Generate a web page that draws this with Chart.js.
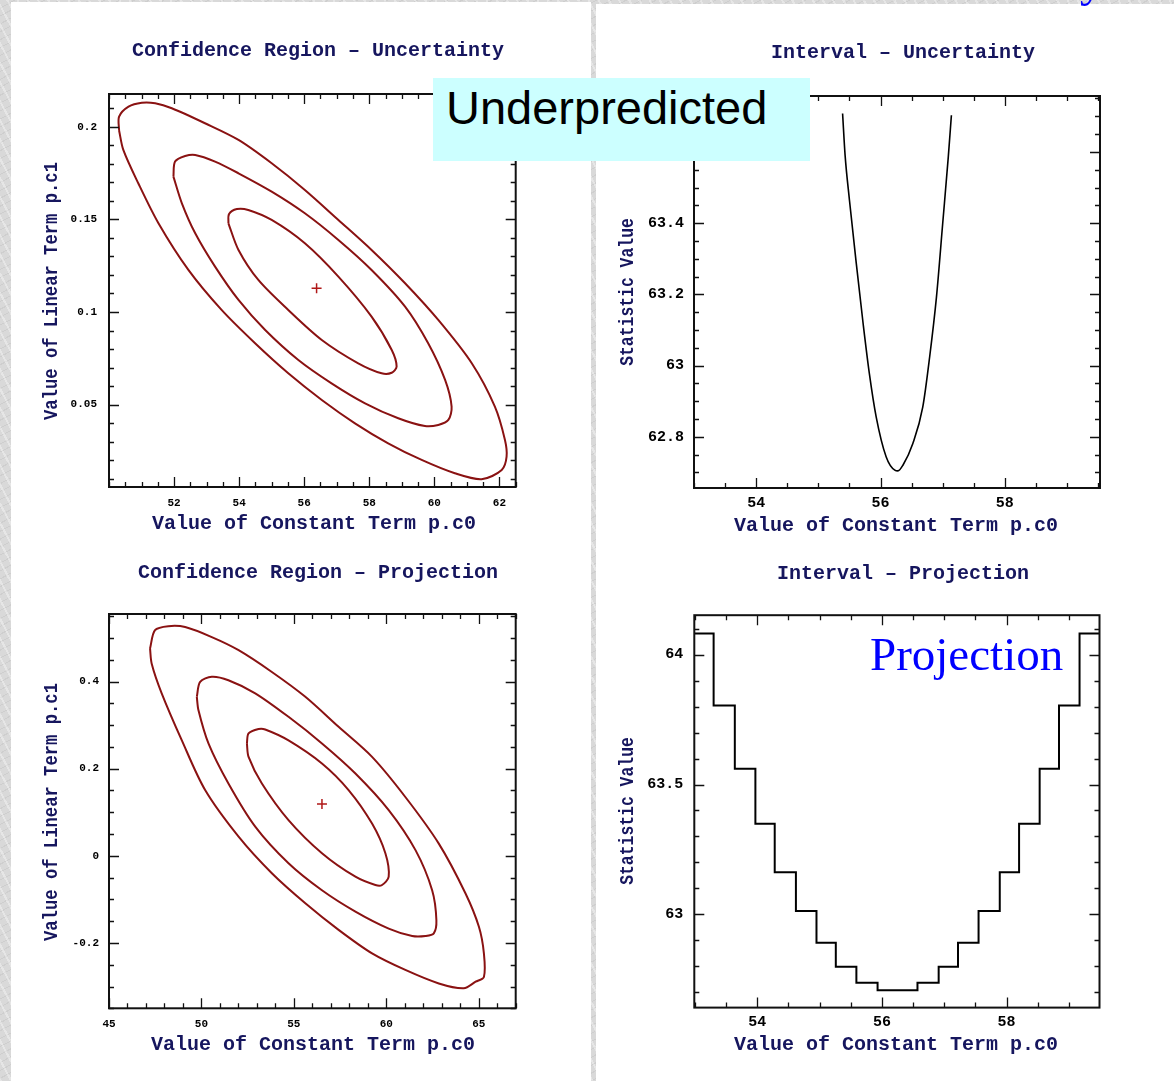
<!DOCTYPE html>
<html>
<head>
<meta charset="utf-8">
<script src="https://cdn.jsdelivr.net/npm/chart.js@4.4.1/dist/chart.umd.min.js"></script>
<style>
  body {
    margin: 0;
    width: 1174px;
    height: 1081px;
    overflow: hidden;
    position: relative;
    background-color: #d9d9d9;
    background-image:
      repeating-linear-gradient(62deg, rgba(255,255,255,0.35) 0 2px, transparent 2px 9px),
      repeating-linear-gradient(-28deg, rgba(0,0,0,0.05) 0 1px, transparent 1px 7px);
  }
  .panel { position: absolute; background: #fff; }
  canvas { position: absolute; }
  .ttl {
    position: absolute;
    font: bold 20px "Liberation Mono", monospace;
    color: #16165e;
    white-space: nowrap;
    transform: translate(-50%, -50%);
  }
  .ytl { transform: translate(-50%, -50%) rotate(-90deg) scaleX(0.86); }
  #under {
    position: absolute; left: 433px; top: 78px; width: 377px; height: 83px;
    background: #ccffff; z-index: 5;
  }
  #under span {
    position: absolute; left: 13px; top: 2px;
    font: 47px "Liberation Sans", Arial, sans-serif; color: #000; white-space: nowrap;
  }
  #proj {
    position: absolute; left: 870px; top: 627px; z-index: 5;
    font: 47px "Liberation Serif", "Times New Roman", serif; color: #0000ff; white-space: nowrap;
  }
  #topy {
    position: absolute; left: 1080px; top: -47px; z-index: 6;
    font: 47px "Liberation Serif", "Times New Roman", serif; color: #0000ff;
  }
</style>
</head>
<body>
<div class="panel" style="left:11px;top:2px;width:580px;height:1079px"></div>
<div class="panel" style="left:596px;top:4px;width:578px;height:1077px"></div>

<canvas id="c1" width="590" height="540" style="left:0;top:0"></canvas>
<canvas id="c2" width="584" height="540" style="left:590px;top:0"></canvas>
<canvas id="c3" width="590" height="541" style="left:0;top:540px"></canvas>
<canvas id="c4" width="584" height="541" style="left:590px;top:540px"></canvas>

<div class="ttl" style="left:318px;top:50px">Confidence Region – Uncertainty</div>
<div class="ttl" style="left:903px;top:52px">Interval – Uncertainty</div>
<div class="ttl" style="left:318px;top:572px">Confidence Region – Projection</div>
<div class="ttl" style="left:903px;top:573px">Interval – Projection</div>

<div class="ttl" style="left:314px;top:523px">Value of Constant Term p.c0</div>
<div class="ttl" style="left:896px;top:525px">Value of Constant Term p.c0</div>
<div class="ttl" style="left:313px;top:1044px">Value of Constant Term p.c0</div>
<div class="ttl" style="left:896px;top:1044px">Value of Constant Term p.c0</div>

<div class="ttl ytl" style="left:51px;top:291px">Value of Linear Term p.c1</div>
<div class="ttl ytl" style="left:627px;top:292px;transform:translate(-50%,-50%) rotate(-90deg) scaleX(0.82)">Statistic Value</div>
<div class="ttl ytl" style="left:51px;top:812px">Value of Linear Term p.c1</div>
<div class="ttl ytl" style="left:627px;top:811px;transform:translate(-50%,-50%) rotate(-90deg) scaleX(0.82)">Statistic Value</div>

<div id="under"><span>Underpredicted</span></div>
<div id="proj">Projection</div>
<div id="topy">y</div>

<script>
// Confidence region - uncertainty: contours in (p.c0, p.c1)
const uncOuterC0 = [50.31, 50.31, 50.60, 51.01, 51.42, 51.93, 52.95, 53.98, 55.00, 56.02, 57.05, 58.07, 59.10, 60.12, 61.15, 61.86, 62.17, 62.22, 62.07, 61.45, 60.63, 59.61, 58.58, 57.56, 56.54, 55.51, 54.49, 53.46, 52.44, 51.52, 50.90, 50.44];
const uncOuterC1 = [0.198, 0.2055, 0.2109, 0.213, 0.2127, 0.210, 0.2019, 0.1929, 0.1803, 0.1659, 0.1497, 0.1335, 0.1155, 0.0957, 0.0723, 0.0489, 0.0309, 0.0219, 0.0147, 0.0097, 0.0129, 0.0201, 0.0291, 0.0399, 0.0525, 0.0669, 0.0831, 0.1011, 0.1227, 0.1479, 0.1695, 0.1875];
const uncMidC0 = [51.98, 52.03, 52.34, 52.65, 53.26, 53.98, 55.00, 56.02, 57.05, 58.07, 59.10, 59.81, 60.33, 60.53, 60.43, 60.12, 59.71, 58.89, 57.87, 56.84, 55.82, 54.80, 53.98, 53.26, 52.65, 52.24];
const uncMidC1 = [0.1731, 0.1812, 0.1842, 0.1848, 0.1812, 0.1749, 0.165, 0.1533, 0.1389, 0.1227, 0.1029, 0.0831, 0.0633, 0.0489, 0.0417, 0.039, 0.0384, 0.0426, 0.0507, 0.0615, 0.0741, 0.0903, 0.1065, 0.1245, 0.1425, 0.1587];
const uncInC0 = [53.67, 53.69, 53.93, 54.28, 55.00, 56.02, 57.05, 58.07, 58.69, 58.84, 58.69, 58.38, 57.66, 56.54, 55.51, 54.59, 53.98];
const uncInC1 = [0.1479, 0.1529, 0.1556, 0.1551, 0.1497, 0.1371, 0.1191, 0.0975, 0.0795, 0.0705, 0.0672, 0.0669, 0.0723, 0.0849, 0.1011, 0.1173, 0.1335];
const uncBest = [56.38, 0.1128];

// Confidence region - projection
const projOuterC0 = [47.22, 47.49, 48.21, 49.12, 50.56, 52.01, 53.81, 55.62, 57.42, 59.23, 61.03, 62.84, 64.28, 65.01, 65.28, 65.28, 64.83, 64.19, 62.84, 61.03, 59.23, 57.42, 55.62, 53.81, 52.01, 50.20, 48.94, 47.85, 47.31];
const projOuterC1 = [0.476, 0.518, 0.527, 0.525, 0.502, 0.472, 0.422, 0.365, 0.296, 0.227, 0.135, 0.028, -0.086, -0.163, -0.224, -0.278, -0.289, -0.304, -0.293, -0.262, -0.224, -0.170, -0.109, -0.040, 0.044, 0.151, 0.265, 0.373, 0.441];
const projMidC0 = [49.75, 49.93, 50.56, 51.46, 52.91, 54.71, 56.52, 58.33, 60.13, 61.58, 62.48, 62.71, 62.57, 62.12, 61.40, 60.13, 58.33, 56.52, 54.71, 52.91, 51.46, 50.38, 49.84];
const projMidC1 = [0.365, 0.399, 0.411, 0.403, 0.373, 0.319, 0.258, 0.189, 0.105, 0.013, -0.079, -0.148, -0.178, -0.184, -0.184, -0.167, -0.128, -0.079, -0.017, 0.067, 0.166, 0.258, 0.334];
const projInC0 = [52.46, 52.55, 53.09, 53.45, 54.71, 56.52, 57.96, 59.23, 59.95, 60.13, 59.77, 59.41, 58.33, 56.52, 54.71, 53.27, 52.55];
const projInC1 = [0.258, 0.281, 0.291, 0.290, 0.265, 0.212, 0.151, 0.074, 0.006, -0.048, -0.067, -0.067, -0.048, 0.006, 0.082, 0.166, 0.227];
const projBest = [56.52, 0.119];

// Interval - uncertainty
const intUncC0 = [55.39, 55.43, 55.50, 55.61, 55.72, 55.82, 55.93, 56.09, 56.23, 56.28, 56.36, 56.52, 56.68, 56.79, 56.90, 57.00, 57.09, 57.14];
const intUncStat = [63.708, 63.591, 63.465, 63.287, 63.118, 62.978, 62.856, 62.744, 62.706, 62.704, 62.720, 62.781, 62.884, 63.024, 63.193, 63.399, 63.586, 63.703];

// Interval - projection (bin edges and level per bin)
const intProjEdges = [53.0, 53.30, 53.64, 53.97, 54.28, 54.62, 54.95, 55.26, 55.59, 55.93, 56.57, 56.91, 57.22, 57.55, 57.89, 58.20, 58.53, 58.84, 59.17, 59.52];
const intProjStat = [64.082, 63.804, 63.561, 63.349, 63.162, 63.013, 62.891, 62.798, 62.737, 62.708, 62.737, 62.798, 62.891, 63.013, 63.162, 63.349, 63.561, 63.804, 64.082];

// tick values
const uncC0Ticks = [52, 54, 56, 58, 60, 62];
const uncC1Ticks = [0.05, 0.1, 0.15, 0.2];
const projC0Ticks = [45, 50, 55, 60, 65];
const projC1Ticks = [-0.2, 0, 0.2, 0.4];
const intC0Ticks = [54, 56, 58];
const intUncTicks = [62.8, 63, 63.2, 63.4, 63.6];
const intProjTicks = [63, 63.5, 64];

const toPts = (xs, ys) => xs.map((x, i) => ({ x, y: ys[i] }));
const closed = (xs, ys) => { const p = toPts(xs, ys); p.push(p[0]); return p; };

const frameTicks = {
  id: 'frameTicks',
  afterDatasetsDraw(chart, args, opts) {
    const { ctx, chartArea: a, scales: { x, y } } = chart;
    const marks = (scale, step) => {
      const out = [];
      for (let i = Math.ceil(scale.min / step - 1e-6); i * step <= scale.max + 1e-9; i++) out.push(i * step);
      return out;
    };
    const isMajor = (scale, v, step) => scale.ticks.some(t => Math.abs(t.value - v) < step / 10);
    ctx.save();
    ctx.strokeStyle = '#111';
    ctx.lineWidth = 1.3;
    ctx.beginPath();
    marks(x, opts.xMinor).forEach(v => {
      const len = isMajor(x, v, opts.xMinor) ? 10 : 5;
      const px = Math.round(x.getPixelForValue(v)) + 0.5;
      ctx.moveTo(px, a.bottom); ctx.lineTo(px, a.bottom - len);
      ctx.moveTo(px, a.top); ctx.lineTo(px, a.top + len);
    });
    marks(y, opts.yMinor).forEach(v => {
      const len = isMajor(y, v, opts.yMinor) ? 10 : 5;
      const py = Math.round(y.getPixelForValue(v)) + 0.5;
      ctx.moveTo(a.left, py); ctx.lineTo(a.left + len, py);
      ctx.moveTo(a.right, py); ctx.lineTo(a.right - len, py);
    });
    ctx.stroke();
    ctx.lineWidth = 2;
    ctx.strokeRect(a.left, a.top, a.width, a.height);
    ctx.restore();
  }
};

function makeOptions(o) {
  return {
    responsive: false,
    animation: false,
    events: [],
    layout: { padding: { top: o.top, right: o.right, bottom: 0, left: 0 } },
    plugins: {
      legend: { display: false },
      tooltip: { enabled: false },
      frameTicks: { xMinor: o.xMinor, yMinor: o.yMinor }
    },
    scales: {
      x: {
        type: 'linear', min: o.xMin, max: o.xMax,
        grid: { display: false, drawTicks: false },
        border: { display: false },
        ticks: { font: o.font, color: '#000', padding: o.xPad, maxRotation: 0, autoSkip: false, callback: v => String(v) },
        afterBuildTicks: s => { s.ticks = o.xTicks.map(v => ({ value: v })); },
        afterFit: s => { s.height = o.xHeight; }
      },
      y: {
        type: 'linear', min: o.yMin, max: o.yMax,
        grid: { display: false, drawTicks: false },
        border: { display: false },
        ticks: { font: o.font, color: '#000', padding: o.yPad, autoSkip: false, callback: v => String(v) },
        afterBuildTicks: s => { s.ticks = o.yTicks.map(v => ({ value: v })); },
        afterFit: s => { s.width = o.yWidth; }
      }
    }
  };
}

const contourStyle = { showLine: true, borderColor: '#8a1212', borderWidth: 2, pointRadius: 0, tension: 0.3, fill: false };
const bestStyle = { pointStyle: 'cross', pointRadius: 5, borderColor: '#b01818', borderWidth: 1.5, showLine: false };
const smallFont = { family: 'Liberation Mono', weight: 'bold', size: 11 };
const bigFont = { family: 'Liberation Mono', weight: 'bold', size: 15 };

new Chart(document.getElementById('c1'), {
  type: 'scatter',
  data: {
    datasets: [
      { ...contourStyle, data: closed(uncOuterC0, uncOuterC1) },
      { ...contourStyle, data: closed(uncMidC0, uncMidC1) },
      { ...contourStyle, data: closed(uncInC0, uncInC1) },
      { ...bestStyle, data: [{ x: uncBest[0], y: uncBest[1] }] }
    ]
  },
  options: makeOptions({
    top: 94, right: 74.3, xHeight: 53, yWidth: 109, xPad: 10, yPad: 12, font: smallFont,
    xMin: 50.0, xMax: 62.5, yMin: 0.0055, yMax: 0.2177,
    xTicks: uncC0Ticks, yTicks: uncC1Ticks, xMinor: 0.5, yMinor: 0.01
  }),
  plugins: [frameTicks]
});

new Chart(document.getElementById('c2'), {
  type: 'scatter',
  data: {
    datasets: [
      { data: toPts(intUncC0, intUncStat), showLine: true, borderColor: '#000', borderWidth: 1.6, pointRadius: 0, cubicInterpolationMode: 'monotone' }
    ]
  },
  options: makeOptions({
    top: 96, right: 74, xHeight: 52, yWidth: 104, xPad: 6, yPad: 10, font: bigFont,
    xMin: 53.0, xMax: 59.53, yMin: 62.656, yMax: 63.757,
    xTicks: intC0Ticks, yTicks: intUncTicks, xMinor: 0.5, yMinor: 0.05
  }),
  plugins: [frameTicks]
});

new Chart(document.getElementById('c3'), {
  type: 'scatter',
  data: {
    datasets: [
      { ...contourStyle, data: closed(projOuterC0, projOuterC1) },
      { ...contourStyle, data: closed(projMidC0, projMidC1) },
      { ...contourStyle, data: closed(projInC0, projInC1) },
      { ...bestStyle, data: [{ x: projBest[0], y: projBest[1] }] }
    ]
  },
  options: makeOptions({
    top: 74, right: 74.3, xHeight: 72.7, yWidth: 109, xPad: 9, yPad: 10, font: smallFont,
    xMin: 45, xMax: 67, yMin: -0.35, yMax: 0.555,
    xTicks: projC0Ticks, yTicks: projC1Ticks, xMinor: 1, yMinor: 0.05
  }),
  plugins: [frameTicks]
});

// each level runs from its left edge to the next edge, then steps
const stepPts = intProjStat.map((v, i) => ({ x: intProjEdges[i], y: v }));
stepPts.push({ x: intProjEdges[intProjEdges.length - 1], y: intProjStat[intProjStat.length - 1] });

new Chart(document.getElementById('c4'), {
  type: 'scatter',
  data: {
    datasets: [
      { data: stepPts, showLine: true, stepped: 'before', borderColor: '#000', borderWidth: 2, pointRadius: 0 }
    ]
  },
  options: makeOptions({
    top: 75.2, right: 74.5, xHeight: 73.4, yWidth: 104.3, xPad: 6, yPad: 11, font: bigFont,
    xMin: 52.99, xMax: 59.49, yMin: 62.641, yMax: 64.152,
    xTicks: intC0Ticks, yTicks: intProjTicks, xMinor: 0.5, yMinor: 0.1
  }),
  plugins: [frameTicks]
});
</script>
</body>
</html>
